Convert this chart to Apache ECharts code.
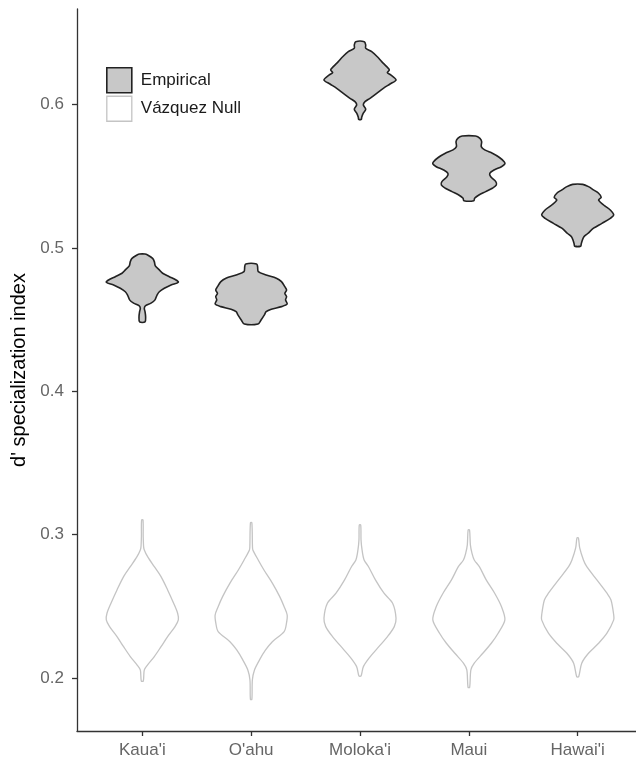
<!DOCTYPE html>
<html>
<head>
<meta charset="utf-8">
<script src="https://cdn.jsdelivr.net/npm/echarts/dist/echarts.min.js"></script>
<style>
  html, body { margin: 0; padding: 0; background: #ffffff; }
  #chart { width: 636px; height: 761px; }
</style>
</head>
<body>
<div id="chart"></div>
<script>
// ---------------- data ----------------
const categories = ["Kaua'i", "O'ahu", "Moloka'i", "Maui", "Hawai'i"];
const yTicks = [0.2, 0.3, 0.4, 0.5, 0.6];
const seriesNames = ["Empirical", "Vázquez Null"];

// violin profiles: [d' value, density (relative units)]
const empKauai = [[0.4957,2.7],[0.4950,5.3],[0.4927,10.3],[0.4904,12],[0.4874,13],[0.4846,17],[0.4823,20.3],[0.4799,27],[0.4776,33.7],[0.4760,36],[0.4741,28.7],[0.4718,22],[0.4694,17],[0.4671,14.7],[0.4637,12.7],[0.4614,8.7],[0.4597,3.3],[0.4579,2],[0.4555,2.7],[0.4520,3.3],[0.4483,2.7]];
const empOahu = [[0.4888,5.3],[0.4869,6.3],[0.4834,7],[0.4811,14.7],[0.4788,24.7],[0.4764,29.7],[0.4729,33],[0.4706,34.7],[0.4683,33],[0.4660,34.7],[0.4637,33.7],[0.4609,35.3],[0.4590,29.7],[0.4572,19.7],[0.4555,14.7],[0.4532,13],[0.4497,9.7],[0.4469,6.7]];
const empMolokai = [[0.6438,4.3],[0.6415,5.7],[0.6392,5.7],[0.6368,11.7],[0.6333,17.3],[0.6299,21.7],[0.6264,26.7],[0.6241,29.3],[0.6222,27.3],[0.6206,30.7],[0.6171,36],[0.6143,30],[0.6113,23.3],[0.6078,16.7],[0.6043,10],[0.6020,5],[0.5997,3.3],[0.5967,5.7],[0.5939,3.3],[0.5911,1.7],[0.5897,1.3]];
const empMaui = [[0.5780,6.7],[0.5764,11],[0.5741,12.7],[0.5706,12.3],[0.5683,15.7],[0.5660,23.3],[0.5632,30],[0.5601,35],[0.5585,35.7],[0.5566,32.3],[0.5543,25],[0.5520,20.7],[0.5496,21.7],[0.5462,26.7],[0.5439,27.3],[0.5416,23.3],[0.5392,16.7],[0.5369,10],[0.5346,5.7],[0.5329,5]];
const empHawaii = [[0.5443,5],[0.5427,10.7],[0.5404,15.7],[0.5381,20.7],[0.5353,23.3],[0.5334,20.7],[0.5299,25.7],[0.5264,32.3],[0.5229,35.7],[0.5206,32.3],[0.5171,24],[0.5137,15.7],[0.5100,10],[0.5076,6],[0.5051,4.5],[0.5027,3.5],[0.5012,3]];

const nullKauai = [[0.3102,0.7],[0.2986,0.9],[0.2916,1.3],[0.2893,2],[0.2846,5.3],[0.2776,12],[0.2707,18.7],[0.2614,25.3],[0.2521,31.3],[0.2451,35.3],[0.2405,36],[0.2358,32.7],[0.2288,25.3],[0.2218,18.7],[0.2149,12],[0.2091,5.3],[0.2056,2],[0.1979,1]];
const nullOahu = [[0.3083,0.7],[0.2916,1.3],[0.2893,1.7],[0.2823,7],[0.2753,12.7],[0.2661,21],[0.2567,28.3],[0.2497,32.7],[0.2439,35.7],[0.2382,35],[0.2323,32.7],[0.2253,21],[0.2195,14.3],[0.2126,8.3],[0.2056,3.3],[0.1986,1.2],[0.1851,0.7]];
const nullMolokai = [[0.3067,0.7],[0.2963,1],[0.2893,2],[0.2823,4],[0.2776,8.3],[0.2684,15],[0.2591,23.3],[0.2521,31.7],[0.2416,35],[0.2358,33.3],[0.2288,26.7],[0.2218,18.3],[0.2149,10],[0.2079,3.3],[0.2014,1]];
const nullMaui = [[0.3032,0.7],[0.2928,1.5],[0.2872,3],[0.2823,5.3],[0.2776,10.3],[0.2684,17],[0.2591,25.3],[0.2497,32],[0.2405,35.3],[0.2312,28.7],[0.2242,22],[0.2172,13.7],[0.2103,5.3],[0.2056,2],[0.1935,0.8]];
const nullHawaii = [[0.2977,0.7],[0.2907,2],[0.2823,5.7],[0.2776,9],[0.2684,19],[0.2591,29],[0.2544,33],[0.2439,35.7],[0.2405,35.7],[0.2312,29],[0.2242,20.7],[0.2172,10.7],[0.2103,4],[0.2009,1]];

const empProfiles = [empKauai, empOahu, empMolokai, empMaui, empHawaii];
const nullProfiles = [nullKauai, nullOahu, nullMolokai, nullMaui, nullHawaii];

// ---------------- chart ----------------
const FONT = "'Liberation Sans', Arial, Helvetica, sans-serif";
const HALF = 0.331; // maximum half width of a violin, in category units
const EMP_STYLE = { fill: '#c8c8c8', stroke: '#222222', lineWidth: 1.6 };
const NULL_STYLE = { fill: 'rgba(255,255,255,0)', stroke: '#c4c4c4', lineWidth: 1.3 };
const catPositions = categories.map((c, i) => i + 1);

function violinRenderer(profiles, style) {
  return function (params, api) {
    const prof = profiles[params.dataIndex];
    const x = api.value(0);
    const maxD = Math.max.apply(null, prof.map(p => p[1]));
    const left = prof.map(p => api.coord([x - p[1] / maxD * HALF, p[0]]));
    const right = prof.slice().reverse().map(p => api.coord([x + p[1] / maxD * HALF, p[0]]));
    return {
      type: 'polygon',
      shape: { points: left.concat(right), smooth: 0.3 },
      style: style
    };
  };
}

const chart = echarts.init(document.getElementById('chart'), null, { renderer: 'canvas' });
chart.setOption({
  animation: false,
  backgroundColor: '#ffffff',
  grid: { left: 77, right: -7, top: 9, bottom: 30, containLabel: false, outerBoundsMode: 'none' },
  legend: {
    orient: 'vertical',
    left: 106,
    top: 67,
    padding: 0,
    itemWidth: 25,
    itemHeight: 25,
    itemGap: 2,
    selectedMode: false,
    textStyle: { fontSize: 17, color: '#1a1a1a', fontFamily: FONT, padding: [0, 0, 0, 4] },
    data: [
      { name: seriesNames[0], icon: 'rect', itemStyle: { color: EMP_STYLE.fill, borderColor: EMP_STYLE.stroke, borderWidth: 1.6 } },
      { name: seriesNames[1], icon: 'rect', itemStyle: { color: '#ffffff', borderColor: NULL_STYLE.stroke, borderWidth: 1.3 } }
    ]
  },
  xAxis: {
    type: 'value',
    min: 0.4,
    max: 5.6,
    splitLine: { show: false },
    axisLine: { show: true, onZero: false, lineStyle: { color: '#333333', width: 1.3 } },
    axisTick: { show: true, customValues: catPositions, length: 5, lineStyle: { color: '#333333', width: 1.3 } },
    axisLabel: {
      customValues: catPositions,
      formatter: v => categories[Math.round(v) - 1],
      fontSize: 17, color: '#666666', fontFamily: FONT, margin: 11
    }
  },
  yAxis: {
    type: 'value',
    min: 0.163,
    max: 0.6666,
    splitLine: { show: false },
    axisLine: { show: true, onZero: false, lineStyle: { color: '#333333', width: 1.3 } },
    axisTick: { show: true, customValues: yTicks, length: 5, lineStyle: { color: '#333333', width: 1.3 } },
    axisLabel: {
      customValues: yTicks,
      formatter: v => v.toFixed(1),
      fontSize: 17, color: '#666666', fontFamily: FONT, margin: 13
    },
    name: "d' specialization index",
    nameLocation: 'middle',
    nameGap: 29,
    nameTextStyle: { fontSize: 20, color: '#000000', fontFamily: FONT }
  },
  series: [
    {
      type: 'custom',
      name: seriesNames[1],
      data: catPositions.map(p => [p]),
      encode: { x: 0 },
      renderItem: violinRenderer(nullProfiles, NULL_STYLE),
      silent: true,
      z: 1
    },
    {
      type: 'custom',
      name: seriesNames[0],
      data: catPositions.map(p => [p]),
      encode: { x: 0 },
      renderItem: violinRenderer(empProfiles, EMP_STYLE),
      silent: true,
      z: 2
    }
  ]
});
</script>
</body>
</html>
